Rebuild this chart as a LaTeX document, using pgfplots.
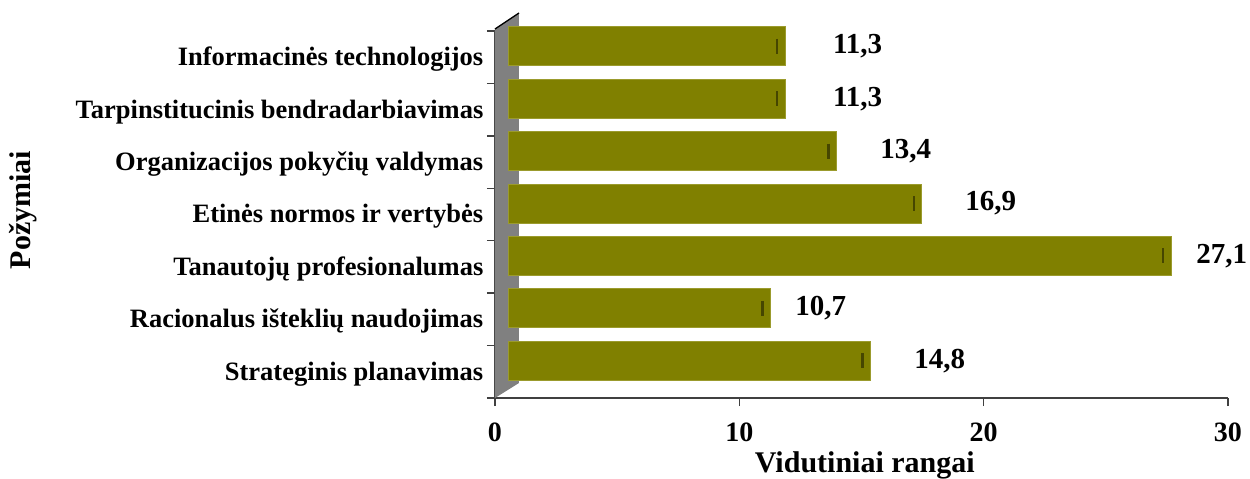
\documentclass[border=0pt]{standalone}
\usepackage{fontspec}
\setmainfont{Liberation Serif}
\usepackage{pgfplots}
\usepackage{pgfplotstable}
\pgfplotsset{compat=1.18}
\definecolor{barolive}{RGB}{128,128,0}
\definecolor{baredge}{RGB}{155,155,45}
\definecolor{wallgray}{RGB}{128,128,128}

\pgfplotstableread{
idx val lab off
0 14.8 14,8 34.4
1 10.7 10,7 23.2
2 27.1 27,1 23.3
3 16.9 16,9 34.3
4 13.4 13,4 34.6
5 11.3 11,3 37.0
6 11.3 11,3 37.0
}\datatable

\begin{document}
\begin{tikzpicture}
\begin{axis}[
  scale only axis, width=439.8pt, height=220.2pt,
  xmin=0, xmax=30, ymin=-0.5, ymax=6.5,
  axis x line*=bottom, axis y line*=left,
  axis line style={black!75, line width=0.8pt},
  clip=false,
  xtick={0,10,20,30},
  ytick={0,...,6},
  yticklabels={Strateginis planavimas, Racionalus išteklių naudojimas, Tanautojų profesionalumas, Etinės normos ir vertybės, Organizacijos pokyčių valdymas, Tarpinstitucinis bendradarbiavimas, Informacinės technologijos},
  minor ytick={-0.5,0.5,...,6.5},
  tick align=outside,
  major tick length=4.8pt, minor tick length=4.8pt,
  major y tick style={draw=none},
  minor y tick style={black!75, line width=0.8pt},
  major x tick style={black!75, line width=0.8pt},
  /pgf/number format/assume math mode=true,
  xticklabel style={font=\fontsize{16.8}{20}\selectfont\bfseries, anchor=base, yshift=-21pt},
  yticklabel style={font=\fontsize{15.9}{19}\selectfont\bfseries, anchor=east, inner sep=0pt, xshift=-2pt, yshift=-1.2pt},
  xlabel={Vidutiniai rangai}, ylabel={Požymiai},
  xlabel style={font=\fontsize{18}{21}\selectfont\bfseries, at={([xshift=2pt,yshift=-40.2pt]rel axis cs:0.5,0)}, anchor=center},
  ylabel style={font=\fontsize{18}{21}\selectfont\bfseries, at={([xshift=-283pt,yshift=2.7pt]rel axis cs:0,0.5)}, anchor=center},
]
\coordinate (O) at (rel axis cs:0,0);
\fill[wallgray] (rel axis cs:0,0) -- ([yshift=1.2pt]rel axis cs:0,1) -- ([xshift=14.4pt,yshift=10.8pt]rel axis cs:0,1) -- ([xshift=14.4pt,yshift=9pt]rel axis cs:0,0) -- cycle;
\draw[black, line width=0.8pt] ([yshift=1.2pt]rel axis cs:0,1) -- ([xshift=14.4pt,yshift=10.8pt]rel axis cs:0,1);

\addplot[xbar, bar width=23.4pt, bar shift=6.6pt, fill=barolive, draw=baredge, line width=0.6pt, xshift=8.4pt]
  table[x=val, y=idx]{\datatable};

\addplot[only marks, mark=|, mark size=4.5pt, mark options={line width=1.5pt, draw=black!45!barolive}, xshift=3.6pt, yshift=6.6pt]
  table[x=val, y=idx]{\datatable};

\addplot[only marks, mark=*, mark options={draw opacity=0, fill opacity=0},
  nodes near coords, point meta=explicit symbolic,
  visualization depends on={\thisrow{off} \as \off},
  every node near coord/.style={anchor=west, inner sep=0pt, xshift=\off*1pt, yshift=6.6pt, font=\fontsize{17.4}{20}\selectfont\bfseries, text opacity=1}]
  table[x=val, y=idx, meta=lab]{\datatable};
\end{axis}
\pgfresetboundingbox
\path ([shift={(-297pt,-48pt)}]O) rectangle ([shift={(453pt,238.8pt)}]O);
\end{tikzpicture}
\end{document}
